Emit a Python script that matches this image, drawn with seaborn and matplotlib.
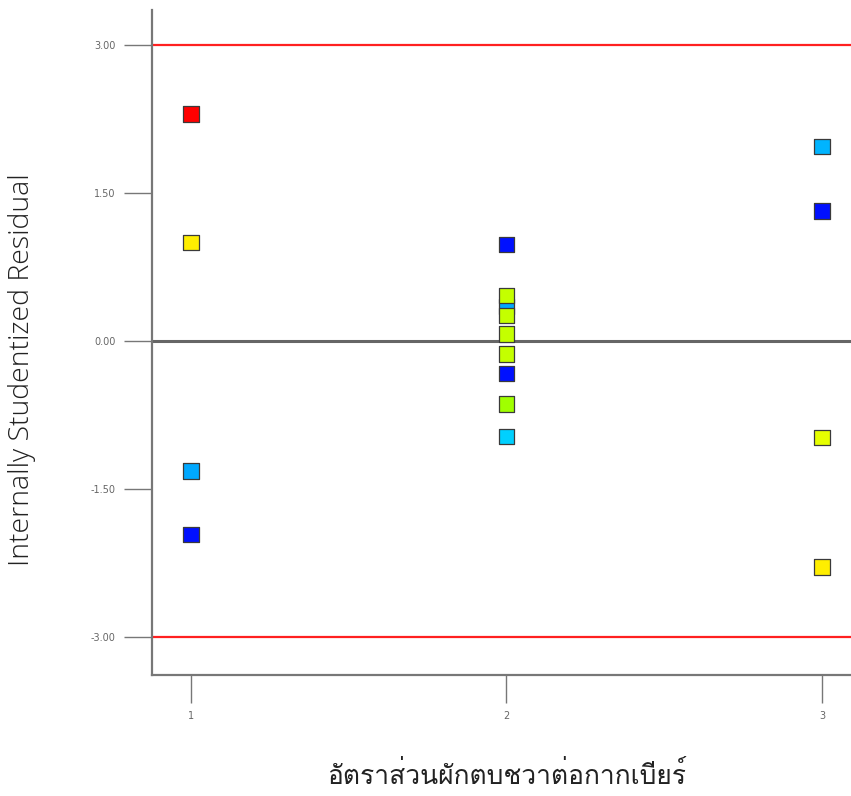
import matplotlib
matplotlib.use("Agg")
import matplotlib.pyplot as plt
import seaborn as sns
import pandas as pd
from matplotlib import font_manager, ft2font

# ---- data ----
x_vals = [1, 1, 1, 1,
          2, 2, 2, 2, 2, 2, 2, 2, 2,
          3, 3, 3, 3]
residuals = [2.30, 1.00, -1.32, -1.96,
             0.98, 0.35, 0.46, 0.26, 0.07, -0.13, -0.33, -0.64, -0.97,
             1.97, 1.32, -0.98, -2.29]
groups = ["red", "yellow", "sky", "blue",
          "blue", "sky", "lime", "lime", "lime", "lime", "blue", "green", "cyan",
          "sky2", "blue", "yellow2", "yellow"]
palette = {"red": "#ff0000", "yellow": "#ffee00", "yellow2": "#e6ff00",
           "sky": "#00a8ff", "sky2": "#00b4ff", "blue": "#0010ff",
           "lime": "#c4ff00", "green": "#a0ff00", "cyan": "#00d0ff"}
x_ticks = [1, 2, 3]
y_ticks = [-3.0, -1.5, 0.0, 1.5, 3.0]
y_tick_labels = ["-3.00", "-1.50", "0.00", "1.50", "3.00"]
limit_lines = [-3.0, 3.0]
x_label = "อัตราส่วนผักตบชวาต่อกากเบียร์"
y_label = "Internally Studentized Residual"

df = pd.DataFrame({"x": x_vals, "r": residuals, "g": groups})

# find a font with Thai glyphs
thai_font = None
for f in font_manager.fontManager.ttflist:
    try:
        ft = ft2font.FT2Font(f.fname)
        if ft.get_char_index(ord("อ")) and ft.get_char_index(ord("ต")):
            thai_font = f.name
            break
    except Exception:
        pass

sns.set_style("white")
plt.rcParams["font.family"] = ["DejaVu Sans"]

fig = plt.figure(figsize=(8.51, 7.96), dpi=100)
ax = fig.add_axes([152/851, (796-675)/796, 1 - 152/851, (675-10)/796])

for v in limit_lines:
    ax.axhline(v, color="#ff2020", lw=1.6, zorder=1)
ax.axhline(0, color="#666666", lw=2.2, zorder=1)

sns.scatterplot(data=df, x="x", y="r", hue="g", palette=palette, marker="s",
                s=125, edgecolor="#3a3a3a", linewidth=0.9, legend=False, ax=ax, zorder=3)

ax.set_xlim(0.877, 3.092)
ax.set_ylim(-3.385, 3.355)
ax.set_xticks(x_ticks)
ax.set_xticklabels([str(t) for t in x_ticks])
ax.set_yticks(y_ticks)
ax.set_yticklabels(y_tick_labels)

for s in ["top", "right"]:
    ax.spines[s].set_visible(False)
for s in ["left", "bottom"]:
    ax.spines[s].set_color("#777777")
    ax.spines[s].set_linewidth(1.6)

ax.tick_params(axis="both", direction="out", length=20, width=1.0, color="#777777",
               labelsize=7, labelcolor="#666666", bottom=True, left=True)
ax.tick_params(axis="x", pad=6)
ax.tick_params(axis="y", pad=6)

ax.set_xlabel("")
ax.set_ylabel("")
fig.text(22/851, 1 - 370/796, y_label, rotation=90, ha="center", va="center",
         fontsize=20.5, family=["Open Sans", "DejaVu Sans"], fontweight="light", color="#222222")
fams = [thai_font, "DejaVu Sans"] if thai_font else ["DejaVu Sans"]
fig.text(507/851, 1 - 775/796, x_label, ha="center", va="center",
         fontsize=19, family=fams, color="#222222")

fig.savefig("out.png", dpi=100)
